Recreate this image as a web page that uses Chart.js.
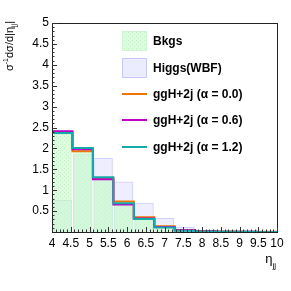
<!DOCTYPE html>
<html>
<head>
<meta charset="utf-8">
<script src="https://cdn.jsdelivr.net/npm/chart.js@4.4.0/dist/chart.umd.min.js"></script>
<style>
html,body{margin:0;padding:0;background:#fff;}
#wrap{width:291px;height:291px;}
</style>
</head>
<body>
<div id="wrap"><canvas id="c" width="291" height="291"></canvas></div>
<script>
// ---- data ----
const binEdges = [4, 4.545, 5.091, 5.636, 6.182, 6.727, 7.273, 7.818, 8.364, 8.909, 9.455, 10];
const bkgs   = [2.43, 1.99, 1.30, 0.70, 0.32, 0.12, 0.04, 0.02, 0.01, 0.008, 0.005];
const higgsWBF = [0.76, 1.85, 1.76, 1.20, 0.69, 0.33, 0.11, 0.04, 0.015, 0.01, 0.005];
const ggH_a00 = [2.39, 1.93, 1.29, 0.73, 0.35, 0.14, 0.05, 0.02, 0.01, 0.005, 0.003];
const ggH_a06 = [2.41, 1.98, 1.26, 0.66, 0.32, 0.12, 0.04, 0.015, 0.008, 0.004, 0.002];
const ggH_a12 = [2.37, 2.01, 1.31, 0.69, 0.31, 0.11, 0.03, 0.012, 0.006, 0.003, 0.002];
const yTicks = [0.5, 1, 1.5, 2, 2.5, 3, 3.5, 4, 4.5, 5];
const xTicks = [4, 4.5, 5, 5.5, 6, 6.5, 7, 7.5, 8, 8.5, 9, 9.5, 10];
const labels = ['Bkgs', 'Higgs(WBF)', 'ggH+2j (\u03b1 = 0.0)', 'ggH+2j (\u03b1 = 0.6)', 'ggH+2j (\u03b1 = 1.2)'];

// ---- helpers ----
function barPoints(vals){ return vals.map((v,i)=>({x:(binEdges[i]+binEdges[i+1])/2, y:v})); }
function stepPoints(vals){
  const pts = vals.map((v,i)=>({x:binEdges[i], y:v}));
  pts.push({x:binEdges[binEdges.length-1], y:vals[vals.length-1]});
  return pts;
}
const COL = {orange:'rgb(236,118,0)', magenta:'rgb(190,0,200)', teal:'rgb(20,170,170)'};

// dotted green pattern (semi-transparent)
const pc = document.createElement('canvas'); pc.width = 4; pc.height = 4;
const pctx = pc.getContext('2d');
pctx.fillStyle = 'rgba(200,252,200,0.6)'; pctx.fillRect(0,0,4,4);
pctx.fillStyle = 'rgba(185,240,195,0.75)'; pctx.fillRect(0,0,1,1); pctx.fillRect(2,2,1,1);
const greenPattern = document.getElementById('c').getContext('2d').createPattern(pc,'repeat');

Chart.defaults.font.family = "'Liberation Sans', Arial, Helvetica, sans-serif";
Chart.defaults.font.size = 12;
Chart.defaults.color = '#000';

const decor = {
  id:'decor',
  afterDatasetsDraw(chart){
    const ctx = chart.ctx, a = chart.chartArea;
    const xs = chart.scales.x, ys = chart.scales.y;
    ctx.save();
    ctx.strokeStyle = '#222'; ctx.lineWidth = 1;
    ctx.strokeRect(Math.round(a.left)+0.5, Math.round(a.top)+0.5, Math.round(a.right-a.left), Math.round(a.bottom-a.top));
    ctx.strokeStyle = '#333';
    ctx.beginPath();
    for (let k=1;k<=50;k++){
      const v = k/10; const py = Math.round(ys.getPixelForValue(v))+0.5;
      const len = (k%5===0)?5:2.5;
      ctx.moveTo(a.left, py); ctx.lineTo(a.left+len, py);
    }
    for (let k=40;k<=100;k++){
      const v = k/10; const px = Math.round(xs.getPixelForValue(v))+0.5;
      const len = (k%5===0)?5:2.5;
      ctx.moveTo(px, a.bottom); ctx.lineTo(px, a.bottom-len);
    }
    ctx.stroke();
    ctx.restore();
  },
  afterDraw(chart){
    const ctx = chart.ctx, a = chart.chartArea;
    ctx.save();
    const sx = a.left + 70, sw = 25, tx = a.left + 101;
    const rows = [a.top+18, a.top+45, a.top+71, a.top+97, a.top+124];
    ctx.font = "bold 12px 'Liberation Sans', Arial, sans-serif";
    ctx.textBaseline = 'middle'; ctx.textAlign = 'left'; ctx.fillStyle = '#000';
    ctx.fillStyle = greenPattern; ctx.fillRect(sx, rows[0]-10, sw, 20);
    ctx.strokeStyle = 'rgb(205,244,210)'; ctx.lineWidth = 1; ctx.strokeRect(sx+0.5, rows[0]-9.5, sw-1, 19);
    ctx.fillStyle = 'rgb(236,236,255)'; ctx.fillRect(sx, rows[1]-10, sw, 20);
    ctx.strokeStyle = 'rgb(200,200,248)'; ctx.strokeRect(sx+0.5, rows[1]-9.5, sw-1, 19);
    const lc = [COL.orange, COL.magenta, COL.teal];
    for (let i=0;i<3;i++){
      ctx.strokeStyle = lc[i]; ctx.lineWidth = 2;
      ctx.beginPath(); ctx.moveTo(sx, rows[i+2]); ctx.lineTo(sx+sw, rows[i+2]); ctx.stroke();
    }
    ctx.fillStyle = '#000';
    labels.forEach((t,i)=>ctx.fillText(t, tx, rows[i]+0.5));
    const ypart = [
      {t:'\u03c3', s:11, dy:0}, {t:'-1', s:7, dy:-4}, {t:'d\u03c3/d|\u03b7', s:11, dy:0},
      {t:'jj', s:7, dy:4}, {t:'|', s:11, dy:0}
    ];
    let W = 0;
    ypart.forEach(p=>{ ctx.font = p.s+"px 'Liberation Sans', Arial, sans-serif"; p.w = ctx.measureText(p.t).width; W += p.w; });
    ctx.translate(10, 21 + W);
    ctx.rotate(-Math.PI/2);
    ctx.textBaseline = 'middle'; ctx.textAlign = 'left';
    let cx = 0;
    ypart.forEach(p=>{ ctx.font = p.s+"px 'Liberation Sans', Arial, sans-serif"; ctx.fillText(p.t, cx, p.dy); cx += p.w; });
    ctx.setTransform(1,0,0,1,0,0);
    ctx.textBaseline = 'alphabetic'; ctx.textAlign = 'left';
    ctx.font = "8px 'Liberation Sans', Arial, sans-serif";
    const sw2 = ctx.measureText('jj').width;
    ctx.font = "13px 'Liberation Sans', Arial, sans-serif";
    const ew = ctx.measureText('\u03b7').width;
    const xr = a.right - 1;
    ctx.fillText('\u03b7', xr - sw2 - ew, 263);
    ctx.font = "8px 'Liberation Sans', Arial, sans-serif";
    ctx.fillText('jj', xr - sw2, 268);
    ctx.restore();
  }
};

new Chart(document.getElementById('c'), {
  type:'bar',
  data:{
    datasets:[
      {type:'line', label:labels[4], data:stepPoints(ggH_a12), borderColor:COL.teal, borderWidth:2, stepped:true, pointRadius:0, fill:false, order:0},
      {type:'line', label:labels[3], data:stepPoints(ggH_a06), borderColor:COL.magenta, borderWidth:2, stepped:true, pointRadius:0, fill:false, order:1},
      {type:'line', label:labels[2], data:stepPoints(ggH_a00), borderColor:COL.orange, borderWidth:2, stepped:true, pointRadius:0, fill:false, order:2},
      {type:'bar', label:labels[0], data:barPoints(bkgs), backgroundColor:greenPattern, borderWidth:0, grouped:false, barPercentage:1, categoryPercentage:1, order:3},
      {type:'bar', label:labels[1], data:barPoints(higgsWBF), backgroundColor:'rgb(238,238,255)', borderColor:'rgb(208,208,250)', borderWidth:1, grouped:false, barPercentage:1, categoryPercentage:1, order:4}
    ]
  },
  options:{
    responsive:false, devicePixelRatio:1, animation:false,
    layout:{padding:{left:0, right:14, top:23, bottom:0}},
    plugins:{legend:{display:false}, tooltip:{enabled:false}},
    scales:{
      x:{type:'linear', min:4, max:10, offset:false,
         grid:{display:false, drawTicks:false}, border:{display:false},
         afterBuildTicks(s){ s.ticks = xTicks.map(v=>({value:v})); },
         afterFit(s){ s.height = 59; },
         ticks:{autoSkip:false, maxRotation:0, padding:4, font:{size:12}, callback:v=>String(v)}},
      y:{type:'linear', min:0, max:5,
         grid:{display:false, drawTicks:false}, border:{display:false},
         afterBuildTicks(s){ s.ticks = yTicks.map(v=>({value:v})); },
         afterFit(s){ s.width = 52; },
         ticks:{padding:3, font:{size:12}, callback:v=>String(v)}}
    }
  },
  plugins:[decor]
});
</script>
</body>
</html>
